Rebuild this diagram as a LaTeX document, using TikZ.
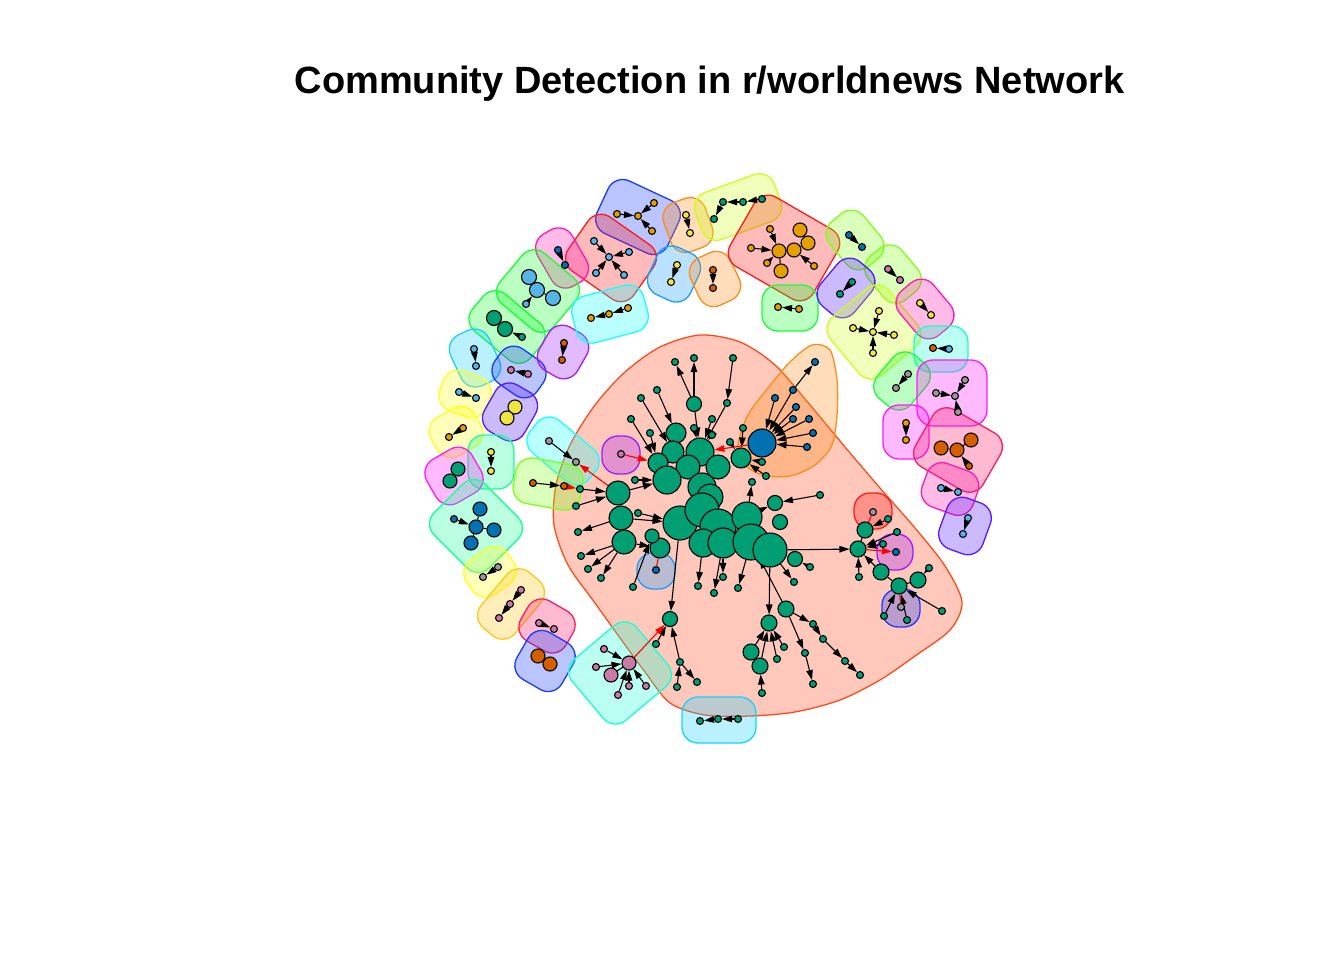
\documentclass[tikz,border=0pt]{standalone}
\usepackage{fontspec}
\setmainfont{Liberation Sans}
\usetikzlibrary{arrows.meta}
% vertex colours
\definecolor{cOr}{HTML}{E69F00}
\definecolor{cSk}{HTML}{56B4E9}
\definecolor{cGr}{HTML}{009E73}
\definecolor{cYe}{HTML}{F0E442}
\definecolor{cBl}{HTML}{0072B2}
\definecolor{cVe}{HTML}{D55E00}
\definecolor{cPk}{HTML}{CC79A7}
\definecolor{cGy}{HTML}{999999}
% hull colours
\definecolor{hRed}{HTML}{FF1A1A}
\definecolor{hOra}{HTML}{FF8C1A}
\definecolor{hGol}{HTML}{FFC81A}
\definecolor{hYel}{HTML}{FFFF1A}
\definecolor{hLim}{HTML}{CCFF1A}
\definecolor{hCha}{HTML}{80FF1A}
\definecolor{hGrn}{HTML}{1AFF33}
\definecolor{hSpr}{HTML}{1AFF99}
\definecolor{hAqu}{HTML}{1AFFD0}
\definecolor{hCya}{HTML}{1AFFFF}
\definecolor{hSky}{HTML}{1AD0FF}
\definecolor{hAzu}{HTML}{1A9CFF}
\definecolor{hBlu}{HTML}{1A3AFF}
\definecolor{hInd}{HTML}{551AFF}
\definecolor{hVio}{HTML}{A01AFF}
\definecolor{hMag}{HTML}{FF1AFF}
\definecolor{hPnk}{HTML}{FF1AB0}
\definecolor{hRos}{HTML}{FF1A66}
\definecolor{hMain}{HTML}{FF4A1A}
\pgfdeclarelayer{hulls}
\pgfdeclarelayer{edges}
\pgfsetlayers{hulls,edges,main}
\begin{document}
\begin{tikzpicture}[x=1pt,y=-1pt,
  vx/.style={circle,draw,line width=1.1pt,inner sep=0pt,minimum size=7pt,fill=#1},
  hull/.style={draw=#1,fill=#1,fill opacity=0.3,line width=1.3pt,rounded corners=16pt,inner sep=0pt},
  arr/.style={-{Triangle[length=10pt,width=6.5pt]},line width=1.1pt},
  ln/.style={line width=1.1pt},
  xarr/.style={arr,red}]
\useasboundingbox (0,0) rectangle (1344,960);
\node[font=\bfseries\fontsize{38}{44}\selectfont,anchor=base] (title) at (709.5,94) {Community Detection in r/worldnews Network};

% community hulls
\begin{pgfonlayer}{hulls}
\draw[hull=hMain,sharp corners] plot[smooth cycle,tension=0.5] coordinates {(700,335) (740,342) (775,365) (810,405) (845,447) (880,488) (915,528) (945,566) (962,602) (950,630) (915,656) (880,680) (840,700) (795,712) (750,716) (705,715) (670,703) (645,672) (620,638) (595,603) (568,565) (554,525) (556,485) (570,445) (595,405) (625,372) (660,347)};
\draw[hull=hOra,sharp corners] plot[smooth cycle,tension=0.5] coordinates {(738,445) (748,415) (768,388) (790,362) (812,345) (830,350) (837,380) (837,415) (832,445) (815,465) (790,476) (762,475) (743,463)};
\foreach \nm/\col/\x/\y/\w/\h/\a in {
  hA/hBlu/638/217/78/58/-25, hB/hRed/611/258/80/66/-35, hC/hPnk/562/258/40/60/30,
  hD/hGrn/538/291/70/66/-40, hE/hGrn/507/327/76/48/-40, hF/hSky/475/358/42/56/25,
  hG/hBlu/519/372/52/42/-35, hH/hVio/563/352/44/50/-30, hI/hCya/610/314/74/48/15,
  hJ/hOra/688/225/44/52/20, hK/hAzu/674/274/46/52/-25, hL/hOra/715/279/44/52/25,
  hM/hLim/738/207/84/50/20, hN/hRed/784/248/96/80/-30, hO/hGrn/790/308/56/46/0,
  hP/hCha/855/240/44/58/40, hQ/hCha/893/274/44/56/40, hR/hInd/846/288/44/58/-40,
  hS/hLim/874/332/76/76/40, hT/hPnk/925/309/44/58/40, hU/hAqu/941/349/54/46/0,
  hV/hGrn/902/381/44/56/-40, hW/hMag/952/393/70/66/0, hX/hMag/906/432/46/54/0,
  hY/hRos/958/450/78/66/-30, hZ/hPnk/950/489/54/46/-20, hAA/hInd/965/526/46/54/-20,
  hAB/hYel/465/394/50/42/-20, hAC/hInd/510/412/46/54/-30, hAD/hYel/456/432/50/44/30,
  hAE/hSpr/491/462/46/54/0, hAF/hMag/454/476/52/50/30, hAG/hSpr/476/526/78/72/-45,
  hAH/hYel/490/572/50/42/35, hAI/hGol/511/604/44/72/-40, hAJ/hRos/547/626/52/46/-30,
  hAK/hBlu/545/661/52/54/-30, hAL/hAqu/620/673/84/80/40, hAM/hSky/719/720/74/46/0,
  hAN/hCya/563/451/76/42/-40, hAO/hCha/548/484/68/46/-10, hAP/hVio/621/455/38/38/0,
  hAQ/hAzu/656/571/38/36/0, hAR/hRed/873/511/38/36/0, hAS/hVio/895/552/36/36/0,
  hAT/hBlu/901/608/38/38/0}
  \node[hull=\col,minimum width=\w,minimum height=\h,rotate=\a] (\nm) at (\x,\y) {};
\end{pgfonlayer}

% small communities round the ring
\foreach \nm/\x/\y/\col/\d in {
  A1/617/214/cOr/7, A2/638/216/cOr/7, A3/654/203/cOr/7, A4/652/231/cOr/7,
  B0/609/257/cSk/7, B1/594/241/cSk/7, B2/629/252/cSk/7, B3/596/273/cSk/7, B4/624/275/cSk/7,
  C1/558/250/cBl/7, C2/565/265/cBl/7,
  D1/529/277/cSk/15, D2/537/290/cSk/15, D3/553/298/cSk/15, D4/526/304/cSk/7,
  E1/494/318/cGr/15, E2/505/329/cGr/15, E3/522/337/cGr/7,
  F1/474/349/cSk/7, F2/476/366/cSk/7, G1/511/370/cPk/7, G2/528/374/cPk/7,
  H1/564/343/cVe/7, H2/562/360/cVe/7,
  I1/591/318/cOr/7, I2/609/314/cOr/7, I3/628/308/cOr/7,
  J1/686/215/cYe/7, J2/690/233/cYe/7, K1/677/265/cYe/7, K2/671/282/cYe/7,
  L1/713/270/cVe/7, L2/713/288/cVe/7,
  M1/723/202/cGr/7, M2/743/202/cGr/7, M3/762/199/cGr/7, M4/714/219/cGr/7,
  N1/800/230/cOr/14, N2/808/243/cOr/14, N3/794/250/cOr/14, N4/779/251/cOr/14, N5/781/271/cOr/14,
  N6/770/229/cOr/7, N7/751/248/cOr/7, N8/767/263/cOr/7, N9/814/266/cOr/7,
  O1/778/307/cOr/7, O2/799/309/cOr/7, P1/849/235/cBl/7, P2/862/247/cBl/7,
  Q1/888/269/cPk/7, Q2/900/280/cPk/7, R1/852/282/cGr/7, R2/840/294/cGr/7,
  S0/873/332/cYe/7, S1/879/311/cYe/7, S2/853/328/cYe/7, S3/894/335/cYe/7, S4/873/353/cYe/7,
  T1/920/303/cYe/7, T2/931/315/cYe/7, U1/933/348/cVe/7, U2/949/349/cSk/7,
  V1/908/374/cGy/7, V2/896/388/cGy/7,
  W0/955/396/cGy/7, W1/965/380/cGy/7, W2/936/393/cGy/7, W3/958/412/cGy/7,
  X1/906/423/cOr/7, X2/906/440/cOr/7,
  Y1/941/448/cVe/14, Y2/957/450/cVe/14, Y3/971/440/cVe/14, Y4/969/466/cVe/7,
  Z1/941/488/cSk/7, Z2/958/492/cSk/7, AA1/968/518/cSk/7, AA2/963/534/cSk/7,
  AB1/459/392/cSk/7, AB2/476/398/cSk/7, AC1/515/407/cYe/14, AC2/507/418/cYe/14,
  AD1/463/428/cOr/7, AD2/449/437/cOr/7, AE1/491/452/cYe/7, AE2/491/471/cYe/7,
  AF1/458/469/cGr/14, AF2/450/481/cGr/14,
  AG1/480/509/cBl/14, AG2/476/527/cBl/14, AG3/494/530/cBl/14, AG4/471/543/cBl/14, AG5/454/519/cBl/7,
  AH1/498/567/cGy/7, AH2/483/577/cGy/7,
  AI1/521/590/cPk/7, AI2/510/604/cPk/7, AI3/499/618/cPk/7,
  AJ1/539/623/cPk/7, AJ2/554/629/cPk/7, AK1/538/656/cVe/14, AK2/550/664/cVe/14,
  AL0/629/663/cPk/14, AL1/611/675/cPk/14, AL2/604/649/cPk/7, AL3/596/667/cPk/7,
  AL4/618/695/cPk/7, AL5/629/686/cPk/7, AL6/646/686/cPk/7,
  AM1/700/721/cGr/7, AM2/718/719/cGr/7, AM3/738/719/cGr/7,
  AN1/549/441/cGy/7, AN2/576/462/cGy/7, AO1/533/483/cVe/7, AO2/564/486/cVe/7,
  AP1/621/454/cPk/7, AQ1/656/570/cBl/7, AR1/873/512/cGy/7, AS1/896/552/cBl/7, AT1/901/607/cGy/7}
  \node[vx=\col,minimum size=\d] (\nm) at (\x,\y) {};

% the big community
\foreach \nm/\x/\y/\d in {
  g1/694/404/15, g2/676/433/20, g3/673/452/22, g4/700/452/28, g5/718/467/24, g6/688/467/24,
  g8/658/463/20, g7/667/480/28, g9/741/458/20, g10/702/487/28, g11/710/497/26,
  g12/680/523/34, g13/702/510/34, g14/718/527/36, g15/747/517/30, g18/703/543/28,
  g19/723/543/30, g16/751/542/36, g17/770/550/34, g20/660/548/20, g21/652/536/14,
  g22/775/503/15, g23/780/522/15, g24/795/559/15, g25/618/493/24, g26/621/518/24,
  g27/624/542/24, g28/670/619/15, g29/769/623/16, g30/786/609/16, g31/751/652/16,
  g32/760/666/16, g33/858/549/16, g34/865/530/16, g35/881/572/16, g36/899/586/16, g37/918/580/16}
  \node[vx=cGr,minimum size=\d] (\nm) at (\x,\y) {};
\foreach \nm/\x/\y in {
  l1/675/362, l2/694/358, l3/733/358, l4/727/403, l5/657/390, l6/641/398, l7/631/419,
  l8/650/433, l9/712/419, l10/694/428, l11/712/435, l12/743/428, l13/730/442, l14/762/462,
  l15/766/476, l16/752/482, l17/820/495, l18/810/567, l19/794/582, l20/738/588, l21/723/577,
  l22/714/593, l23/698/586, l24/580/489, l25/576/506, l26/578/532, l27/581/556, l28/588/569,
  l29/601/578, l30/635/480, l31/638/513, l32/633/587, l33/656/644, l34/680/662, l35/677/687,
  l36/697/682, l37/762/693, l38/777/659, l39/784/647, l40/813/624, l41/823/639, l42/845/661,
  l43/860/675, l44/805/653, l45/813/684, l46/888/519, l47/897/532, l48/883/544, l49/859/577,
  l50/929/568, l51/942/611, l52/884/616, l53/907/620}
  \node[vx=cGr] (\nm) at (\x,\y) {};
% the blue hub and its leaves
\node[vx=cBl,minimum size=28] (BB) at (762,443) {};
\foreach \nm/\x/\y in {b1/815/362, b2/793/390, b3/775/398, b4/796/407, b5/793/419, b6/809/419, b7/813/433, b8/807/447}
  \node[vx=cBl] (\nm) at (\x,\y) {};

% edges
\begin{pgfonlayer}{edges}
\foreach \a/\b in {A1/A2, A3/A2, A4/A2, B1/B0, B2/B0, B3/B0, B4/B0, C1/C2, D4/D2, E3/E2,
  F1/F2, G2/G1, H1/H2, I3/I2, I2/I1, J1/J2, K1/K2, L1/L2, M2/M1, M3/M2, M1/M4,
  N6/N4, N7/N4, N8/N4, N9/N3, O2/O1, P1/P2, Q1/Q2, R1/R2, S1/S0, S2/S0, S3/S0, S4/S0,
  T1/T2, U2/U1, V1/V2, W1/W0, W2/W0, W3/W0, X1/X2, Y4/Y2, Z1/Z2, AA1/AA2, AB1/AB2,
  AD1/AD2, AE1/AE2, AG5/AG2, AH1/AH2, AI1/AI2, AI2/AI3, AJ1/AJ2, AL2/AL0, AL3/AL0,
  AL4/AL0, AL5/AL0, AL6/AL0, AM3/AM2, AM2/AM1, AN1/AN2, AO1/AO2,
  g1/l1, g1/l2, l3/l4, l4/g4, g1/g4, l5/g2, l6/g3, l7/g8, l8/g8, l9/g4, l10/g4, l11/g4,
  l12/g9, l13/g9, l14/g9, l15/g9, g15/l16, l17/g22, l18/g24, g17/l19, g16/l20, g19/l21,
  g19/l22, g18/l23, l24/g25, l25/g25, g26/l26, g27/l27, g27/l28, g27/l29, l30/g7, l31/g12,
  l32/g21, g25/g7, g26/g12, g27/g20, g12/g28, l33/g28, l34/g28, l35/l34, l34/l36,
  g17/g29, g30/g16, g31/g29, g32/g29, l38/g29, l39/g29, l37/g32, g30/l40, l40/l41,
  l41/l42, l42/l43, g30/l44, l44/l45, g17/g33, l46/g34, l47/g33, l48/g33, l49/g33,
  g35/g33, l50/g37, l51/g36, l52/g36, l53/g36,
  b2/b1, b2/BB, b3/BB, b4/BB, b5/BB, b6/BB, b7/BB, b8/BB, g15/g22, g17/g24}
  \draw[arr] (\a) -- (\b);
\foreach \a/\b in {D1/D2, D2/D3, E1/E2, N1/N2, N2/N3, N3/N4, N4/N5, Y1/Y2, Y2/Y3, AC1/AC2,
  AF1/AF2, AG1/AG2, AG2/AG3, AG2/AG4, AK1/AK2, AL1/AL0, g25/g26, g26/g27, g34/g33,
  g35/g36, g37/g36}
  \draw[ln] (\a) -- (\b);
% links between communities
\foreach \a/\b in {AL0/g28, g25/AN2, AO2/l24, AP1/g8, BB/g4, g33/AS1}
  \draw[xarr] (\a) -- (\b);
\foreach \a/\b in {AQ1/g20, AR1/g34, AT1/g36}
  \draw[ln,red] (\a) -- (\b);
\end{pgfonlayer}
\end{tikzpicture}
\end{document}
